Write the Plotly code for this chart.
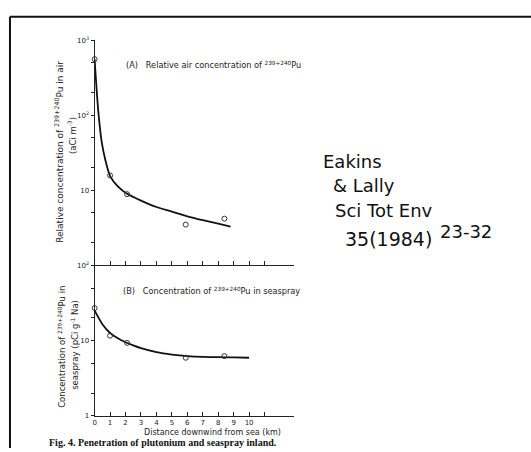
import plotly.graph_objects as go

W, H = 531, 452

# ---- data ----
a_pts_x = [0, 1.0, 2.1, 5.9, 8.4]
a_pts_y = [560, 15.8, 8.9, 3.5, 4.2]
a_curve_x = [0, 0.05, 0.15, 0.26, 0.45, 0.7, 1.0, 1.5, 2.1, 3.0, 4.0, 5.0, 6.0, 7.0, 8.0, 8.8]
a_curve_y = [560, 380, 190, 100, 45, 25, 15.5, 11.3, 9.0, 7.3, 6.0, 5.2, 4.5, 4.0, 3.6, 3.3]

b_pts_x = [0, 1.0, 2.1, 5.9, 8.4]
b_pts_y = [27, 11.6, 9.3, 5.9, 6.2]
b_curve_x = [0, 0.5, 1.0, 1.5, 2.0, 2.5, 3.0, 4.0, 5.0, 6.0, 7.0, 8.0, 9.0, 10.0]
b_curve_y = [25, 16.5, 12.6, 10.7, 9.5, 8.6, 7.9, 7.0, 6.5, 6.2, 6.05, 6.0, 5.95, 5.9]

x_ticks = [0, 1, 2, 3, 4, 5, 6, 7, 8, 9, 10, 11]
x_ticklabels = ["0", "1", "2", "3", "4", "5", "6", "7", "8", "9", "10", ""]
a_yticks = [1, 10, 100, 1000]
a_yticklabels = ["", "10", "10<sup>2</sup>", "10<sup>3</sup>"]
b_yticks = [1, 10, 100]
b_yticklabels = ["1", "10", "10<sup>2</sup>"]

def px(x):
    return x / W

def py(y):
    return 1 - y / H

FONT = "DejaVu Sans"
INK = "#222"

fig = go.Figure()
fig.add_trace(go.Scatter(x=a_curve_x, y=a_curve_y, mode="lines",
                         line=dict(color="#111", width=1.8, shape="spline", smoothing=0.6),
                         xaxis="x", yaxis="y", showlegend=False, cliponaxis=False))
fig.add_trace(go.Scatter(x=a_pts_x, y=a_pts_y, mode="markers",
                         marker=dict(symbol="circle-open", size=5, color="#333", line=dict(width=1)),
                         xaxis="x", yaxis="y", showlegend=False, cliponaxis=False))
fig.add_trace(go.Scatter(x=b_curve_x, y=b_curve_y, mode="lines",
                         line=dict(color="#111", width=1.8, shape="spline", smoothing=0.6),
                         xaxis="x2", yaxis="y2", showlegend=False, cliponaxis=False))
fig.add_trace(go.Scatter(x=b_pts_x, y=b_pts_y, mode="markers",
                         marker=dict(symbol="circle-open", size=5, color="#333", line=dict(width=1)),
                         xaxis="x2", yaxis="y2", showlegend=False, cliponaxis=False))

xdom = [px(93), px(293)]
ydom_a = [py(265.7), py(36)]
ydom_b = [py(419), py(265.7)]

common_x = dict(range=[0, 12.9], showgrid=False, zeroline=False, showline=True,
                linecolor="#222", linewidth=1.2, ticks="inside", ticklen=4,
                tickcolor="#222", tickwidth=1, tickvals=x_ticks)
fig.update_layout(
    width=W, height=H, margin=dict(l=0, r=0, t=0, b=0),
    paper_bgcolor="white", plot_bgcolor="white",
    xaxis=dict(domain=xdom, anchor="y", showticklabels=False, **common_x),
    xaxis2=dict(domain=xdom, anchor="y2", ticktext=x_ticklabels, showticklabels=True,
                tickfont=dict(family=FONT, size=7, color=INK), **common_x),
    yaxis=dict(domain=ydom_a, anchor="x", type="log", range=[0, 3], showgrid=False,
               zeroline=False, showline=True, linecolor="#222", linewidth=1.2,
               ticks="outside", ticklen=3, tickcolor="#222", tickvals=a_yticks,
               ticktext=a_yticklabels, tickfont=dict(family=FONT, size=7, color=INK),
               minor=dict(tickvals=[2, 5, 20, 50, 200, 500], ticks="outside", ticklen=3,
                          tickcolor="#222")),
    yaxis2=dict(domain=ydom_b, anchor="x2", type="log", range=[0, 2], showgrid=False,
                zeroline=False, showline=True, linecolor="#222", linewidth=1.2,
                ticks="outside", ticklen=3, tickcolor="#222", tickvals=b_yticks,
                ticktext=b_yticklabels, tickfont=dict(family=FONT, size=7, color=INK),
                minor=dict(tickvals=[2, 5, 20, 50], ticks="outside", ticklen=3,
                           tickcolor="#222")),
)

ann = []
def add(text, x, y, size=8, xanchor="left", yanchor="middle", angle=0, family=FONT,
        color=INK):
    ann.append(dict(text=text, x=px(x), y=py(y), xref="paper", yref="paper",
                    showarrow=False, xanchor=xanchor, yanchor=yanchor, textangle=angle,
                    font=dict(family=family, size=size, color=color)))

add("(A)&nbsp;&nbsp;&nbsp;Relative air concentration of <sup>239+240</sup>Pu", 122, 61, size=8.2)
add("(B)&nbsp;&nbsp;&nbsp;Concentration of <sup>239+240</sup>Pu in seaspray", 119, 292, size=8.2)
add("Relative concentration of <sup>239+240</sup>Pu in air", 57, 150, size=9, xanchor="center", angle=-90)
add("(aCi m<sup>-3</sup>)", 71, 133, size=8.5, xanchor="center", angle=-90)
add("Concentration of <sup>239+240</sup>Pu in", 60, 349, size=8.5, xanchor="center", angle=-90)
add("seaspray (pCi g<sup>-1</sup> Na)", 73, 347, size=8.5, xanchor="center", angle=-90)
add("Distance downwind from sea (km)", 211, 436, size=8, xanchor="center")
add("<b>Fig. 4. Penetration of plutonium and seaspray inland.</b>", 45, 446, size=10,
    family="Liberation Serif", color="#111")

HW = "DejaVu Sans"
add("Eakins", 320, 160, size=18, family=HW, color="#111")
add("&amp; Lally", 330, 184, size=18, family=HW, color="#111")
add("Sci Tot Env", 332, 210, size=18, family=HW, color="#111")
add("35(1984)", 342, 239, size=19, family=HW, color="#111")
add("23-32", 438, 231, size=18, family=HW, color="#111")
fig.update_layout(annotations=ann)

fig.update_layout(shapes=[
    dict(type="line", xref="paper", yref="paper", x0=px(8), x1=1.0, y0=py(12), y1=py(12),
         line=dict(color="#111", width=2)),
    dict(type="line", xref="paper", yref="paper", x0=px(8), x1=px(8), y0=py(12), y1=0,
         line=dict(color="#111", width=2)),
])

fig.write_html("out.html", config={"displayModeBar": False},
               post_script="document.body.style.margin='0px';document.body.style.overflow='hidden';")
